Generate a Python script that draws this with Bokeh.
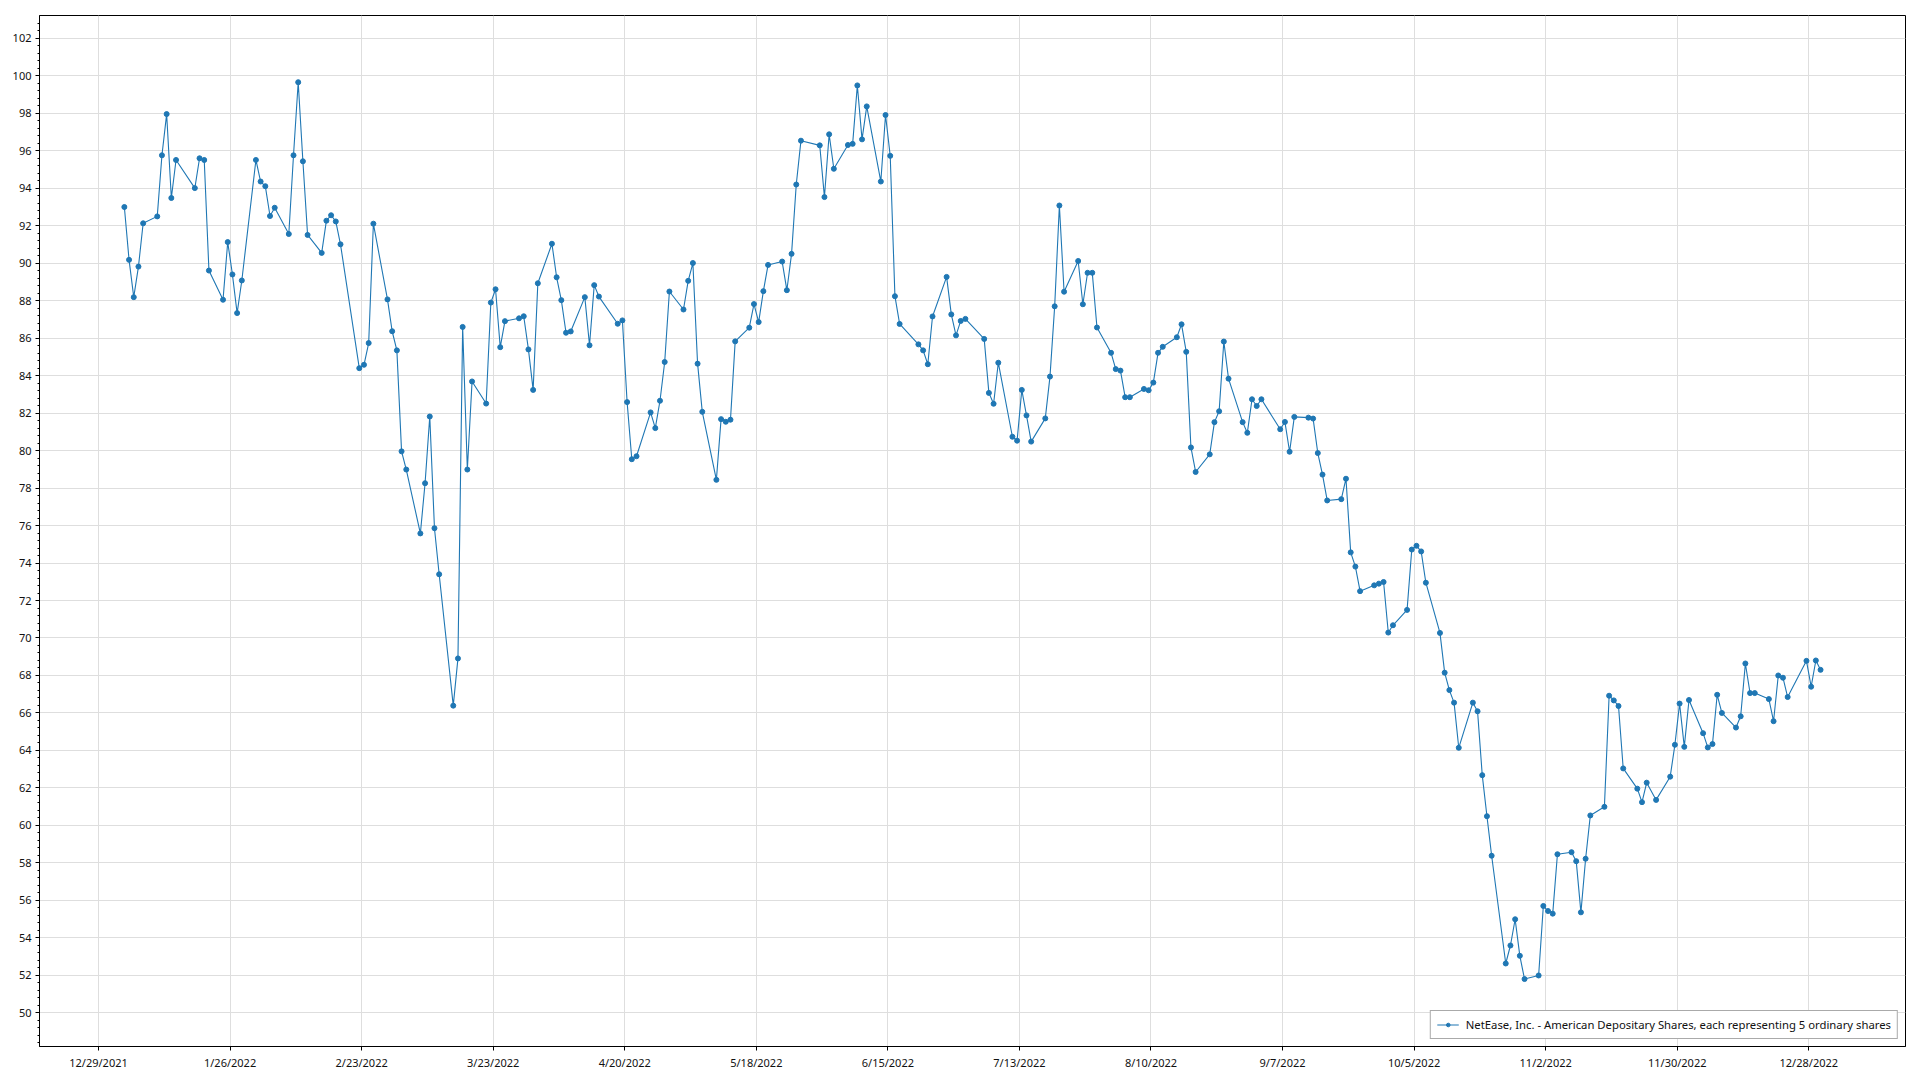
import numpy as np
import pandas as pd
from bokeh.plotting import figure
from bokeh.models import (FixedTicker, CustomJSTickFormatter, Range1d,
                          ColumnDataSource)
from bokeh.embed import file_html
from bokeh.resources import INLINE

# ---- data -------------------------------------------------------------
series_name = "NetEase, Inc. - American Depositary Shares, each representing 5 ordinary shares"

trade_dates = [
    "2022-01-03", "2022-01-04", "2022-01-05", "2022-01-06", "2022-01-07",
    "2022-01-10", "2022-01-11", "2022-01-12", "2022-01-13", "2022-01-14",
    "2022-01-18", "2022-01-19", "2022-01-20", "2022-01-21",
    "2022-01-24", "2022-01-25", "2022-01-26", "2022-01-27", "2022-01-28",
    "2022-01-31", "2022-02-01", "2022-02-02", "2022-02-03", "2022-02-04",
    "2022-02-07", "2022-02-08", "2022-02-09", "2022-02-10", "2022-02-11",
    "2022-02-14", "2022-02-15", "2022-02-16", "2022-02-17", "2022-02-18",
    "2022-02-22", "2022-02-23", "2022-02-24", "2022-02-25",
    "2022-02-28", "2022-03-01", "2022-03-02", "2022-03-03", "2022-03-04",
    "2022-03-07", "2022-03-08", "2022-03-09", "2022-03-10", "2022-03-11",
    "2022-03-14", "2022-03-15", "2022-03-16", "2022-03-17", "2022-03-18",
    "2022-03-21", "2022-03-22", "2022-03-23", "2022-03-24", "2022-03-25",
    "2022-03-28", "2022-03-29", "2022-03-30", "2022-03-31", "2022-04-01",
    "2022-04-04", "2022-04-05", "2022-04-06", "2022-04-07", "2022-04-08",
    "2022-04-11", "2022-04-12", "2022-04-13", "2022-04-14",
    "2022-04-18", "2022-04-19", "2022-04-20", "2022-04-21", "2022-04-22",
    "2022-04-25", "2022-04-26", "2022-04-27", "2022-04-28", "2022-04-29",
    "2022-05-02", "2022-05-03", "2022-05-04", "2022-05-05", "2022-05-06",
    "2022-05-09", "2022-05-10", "2022-05-11", "2022-05-12", "2022-05-13",
    "2022-05-16", "2022-05-17", "2022-05-18", "2022-05-19", "2022-05-20",
    "2022-05-23", "2022-05-24", "2022-05-25", "2022-05-26", "2022-05-27",
    "2022-05-31", "2022-06-01", "2022-06-02", "2022-06-03",
    "2022-06-06", "2022-06-07", "2022-06-08", "2022-06-09", "2022-06-10",
    "2022-06-13", "2022-06-14", "2022-06-15", "2022-06-16", "2022-06-17",
    "2022-06-21", "2022-06-22", "2022-06-23", "2022-06-24",
    "2022-06-27", "2022-06-28", "2022-06-29", "2022-06-30", "2022-07-01",
    "2022-07-05", "2022-07-06", "2022-07-07", "2022-07-08",
    "2022-07-11", "2022-07-12", "2022-07-13", "2022-07-14", "2022-07-15",
    "2022-07-18", "2022-07-19", "2022-07-20", "2022-07-21", "2022-07-22",
    "2022-07-25", "2022-07-26", "2022-07-27", "2022-07-28", "2022-07-29",
    "2022-08-01", "2022-08-02", "2022-08-03", "2022-08-04", "2022-08-05",
    "2022-08-08", "2022-08-09", "2022-08-10", "2022-08-11", "2022-08-12",
    "2022-08-15", "2022-08-16", "2022-08-17", "2022-08-18", "2022-08-19",
    "2022-08-22", "2022-08-23", "2022-08-24", "2022-08-25", "2022-08-26",
    "2022-08-29", "2022-08-30", "2022-08-31", "2022-09-01", "2022-09-02",
    "2022-09-06", "2022-09-07", "2022-09-08", "2022-09-09",
    "2022-09-12", "2022-09-13", "2022-09-14", "2022-09-15", "2022-09-16",
    "2022-09-19", "2022-09-20", "2022-09-21", "2022-09-22", "2022-09-23",
    "2022-09-26", "2022-09-27", "2022-09-28", "2022-09-29", "2022-09-30",
    "2022-10-03", "2022-10-04", "2022-10-05", "2022-10-06", "2022-10-07",
    "2022-10-10", "2022-10-11", "2022-10-12", "2022-10-13", "2022-10-14",
    "2022-10-17", "2022-10-18", "2022-10-19", "2022-10-20", "2022-10-21",
    "2022-10-24", "2022-10-25", "2022-10-26", "2022-10-27", "2022-10-28",
    "2022-10-31", "2022-11-01", "2022-11-02", "2022-11-03", "2022-11-04",
    "2022-11-07", "2022-11-08", "2022-11-09", "2022-11-10", "2022-11-11",
    "2022-11-14", "2022-11-15", "2022-11-16", "2022-11-17", "2022-11-18",
    "2022-11-21", "2022-11-22", "2022-11-23", "2022-11-25",
    "2022-11-28", "2022-11-29", "2022-11-30", "2022-12-01", "2022-12-02",
    "2022-12-05", "2022-12-06", "2022-12-07", "2022-12-08", "2022-12-09",
    "2022-12-12", "2022-12-13", "2022-12-14", "2022-12-15", "2022-12-16",
    "2022-12-19", "2022-12-20", "2022-12-21", "2022-12-22", "2022-12-23",
    "2022-12-27", "2022-12-28", "2022-12-29", "2022-12-30",
]

close_prices = [
    93.00, 90.18, 88.19, 89.82, 92.13,
    92.50, 95.76, 97.96, 93.48, 95.51,
    94.01, 95.60, 95.51, 89.61,
    88.05, 91.13, 89.40, 87.34, 89.08,
    95.51, 94.36, 94.11, 92.52, 92.96,
    91.56, 95.76, 99.66, 95.44, 91.51,
    90.55, 92.27, 92.56, 92.23, 91.01,
    84.40, 84.58, 85.74, 92.11,
    88.07, 86.37, 85.35, 79.96, 78.99,
    75.58, 78.26, 81.82, 75.86, 73.40,
    66.39, 68.91, 86.60, 78.99, 83.69,
    82.51, 87.90, 88.61, 85.52, 86.91,
    87.06, 87.17, 85.40, 83.24, 88.93,
    91.04, 89.25, 88.03, 86.29, 86.36,
    88.19, 85.62, 88.83, 88.22,
    86.77, 86.95, 82.59, 79.54, 79.70,
    82.04, 81.20, 82.66, 84.73, 88.49,
    87.53, 89.06, 90.01, 84.64, 82.07,
    78.44, 81.68, 81.54, 81.65, 85.83,
    86.56, 87.82, 86.86, 88.51, 89.91,
    90.09, 88.56, 90.50, 94.20, 96.54,
    96.29, 93.53, 96.88, 95.04,
    96.31, 96.37, 99.49, 96.61, 98.37,
    94.36, 97.91, 95.73, 88.24, 86.76,
    85.67, 85.35, 84.61, 87.16,
    89.27, 87.27, 86.15, 86.92, 87.03,
    85.96, 83.08, 82.50, 84.69,
    80.74, 80.53, 83.24, 81.88, 80.48,
    81.72, 83.95, 87.70, 93.08, 88.48,
    90.12, 87.81, 89.49, 89.49, 86.57,
    85.22, 84.35, 84.27, 82.85, 82.85,
    83.29, 83.22, 83.63, 85.22, 85.54,
    86.05, 86.74, 85.27, 80.17, 78.86,
    79.80, 81.52, 82.10, 85.82, 83.84,
    81.52, 80.95, 82.74, 82.38, 82.74,
    81.14, 81.53, 79.94, 81.80,
    81.76, 81.71, 79.87, 78.72, 77.34,
    77.41, 78.50, 74.57, 73.81, 72.50,
    72.81, 72.90, 72.99, 70.29, 70.68,
    71.50, 74.72, 74.92, 74.62, 72.95,
    70.27, 68.15, 67.22, 66.55, 64.14,
    66.55, 66.09, 62.68, 60.49, 58.38,
    52.63, 53.59, 54.99, 53.04, 51.80,
    51.99, 55.70, 55.43, 55.29, 58.46,
    58.57, 58.09, 55.36, 58.22, 60.53,
    60.99, 66.92, 66.67, 66.37, 63.04,
    61.96, 61.24, 62.28, 61.36,
    62.60, 64.30, 66.50, 64.19, 66.69,
    64.92, 64.16, 64.34, 66.97, 66.00,
    65.22, 65.82, 68.64, 67.06, 67.06,
    66.74, 65.56, 68.00, 67.88, 66.85,
    68.78, 67.40, 68.80, 68.30,
]

x_tick_dates = [
    "2021-12-29", "2022-01-26", "2022-02-23", "2022-03-23", "2022-04-20",
    "2022-05-18", "2022-06-15", "2022-07-13", "2022-08-10", "2022-09-07",
    "2022-10-05", "2022-11-02", "2022-11-30", "2022-12-28",
]
y_ticks = list(range(50, 103, 2))

# ---- figure -----------------------------------------------------------
FONT = "Noto Sans"
blue = "#1f77b4"

x = pd.to_datetime(trade_dates) + pd.Timedelta(hours=12)
src = ColumnDataSource(dict(x=x, y=close_prices))

x_start = pd.Timestamp("2021-12-29") - pd.Timedelta(days=12.56)
x_end = pd.Timestamp("2022-12-28") + pd.Timedelta(days=20.58)

p = figure(width=1908, height=1072, x_axis_type="datetime",
           output_backend="svg", toolbar_location=None, title=None,
           x_range=Range1d(x_start, x_end), y_range=Range1d(48.2, 103.22),
           min_border_left=39, min_border_right=3, min_border_top=15,
           min_border_bottom=22)

p.background_fill_color = "white"
p.border_fill_color = "white"
p.outline_line_color = "black"
p.outline_line_alpha = 1.0
p.outline_line_width = 1

# x axis
xt_ms = [pd.Timestamp(d).value // 10**6 for d in x_tick_dates]
p.xaxis.ticker = FixedTicker(ticks=xt_ms, minor_ticks=[])
p.xaxis.formatter = CustomJSTickFormatter(code="""
    const d = new Date(tick);
    return (d.getUTCMonth() + 1) + '/' + d.getUTCDate() + '/' + d.getUTCFullYear();
""")

# y axis
minor = [round(v, 1) for v in np.arange(48.4, 103.2, 0.4)]
p.yaxis.ticker = FixedTicker(ticks=y_ticks, minor_ticks=minor)

for ax in (p.xaxis[0], p.yaxis[0]):
    ax.axis_line_color = "black"
    ax.axis_line_width = 1
    ax.major_tick_line_color = "black"
    ax.minor_tick_line_color = "black"
    ax.major_tick_in = 0
    ax.major_tick_out = 4
    ax.minor_tick_in = 0
    ax.minor_tick_out = 2
    ax.major_label_text_font = FONT
    ax.major_label_text_font_size = "11px"
    ax.major_label_text_color = "#111111"
    ax.major_label_standoff = 4

p.xgrid.grid_line_color = "#dedede"
p.ygrid.grid_line_color = "#dedede"
p.xgrid.grid_line_width = 1
p.ygrid.grid_line_width = 1

# series
p.line("x", "y", source=src, line_color=blue, line_width=1.1,
       legend_label=series_name)
p.scatter("x", "y", source=src, marker="circle", size=5,
          fill_color=blue, line_color=blue, legend_label=series_name)

lg = p.legend[0]
lg.location = "bottom_right"
lg.margin = 7
lg.padding = 6
lg.spacing = 0
lg.glyph_width = 22
lg.glyph_height = 9
lg.label_height = 9
lg.label_standoff = 7
lg.label_text_font = FONT
lg.label_text_font_size = "11.3px"
lg.label_text_color = "#111111"
lg.border_line_color = "#555555"
lg.border_line_width = 1.5
lg.background_fill_color = "white"
lg.background_fill_alpha = 1.0

open("out.html", "w").write(file_html(p, INLINE))
